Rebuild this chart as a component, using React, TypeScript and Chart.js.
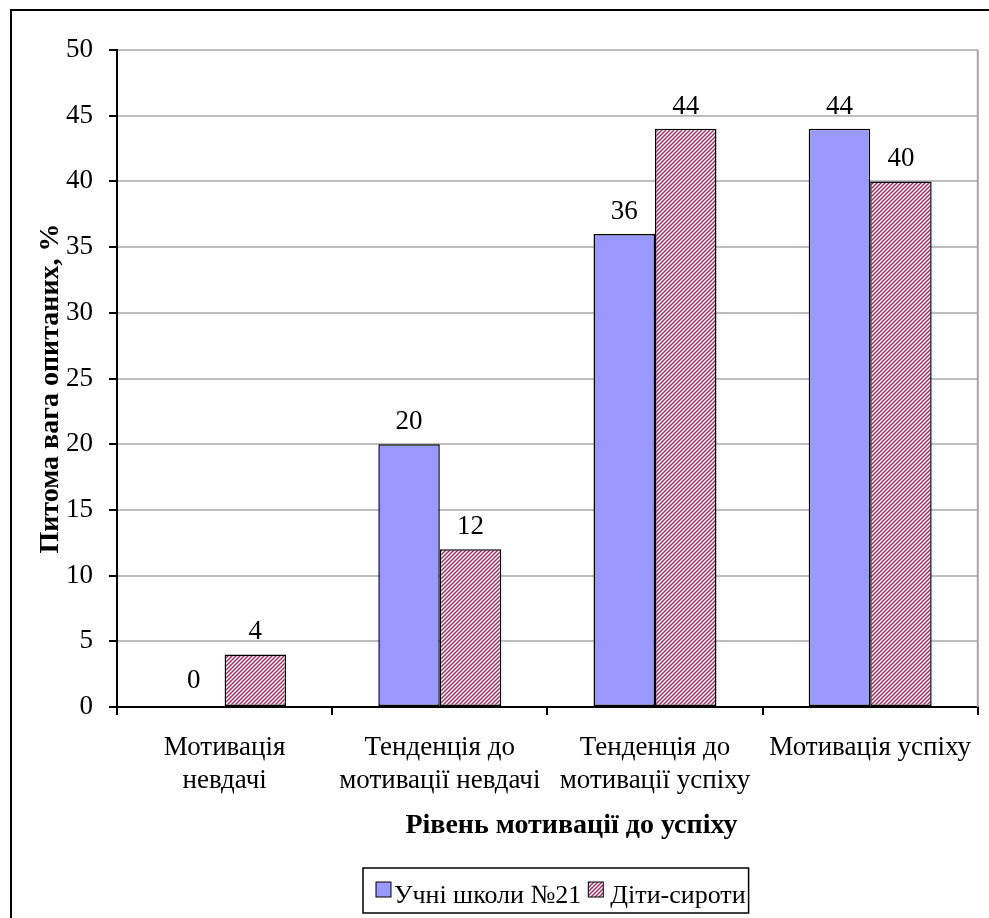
import React, { useEffect, useRef } from "react";
import { Chart, registerables } from "chart.js";

Chart.register(...registerables);

const categories: (string | string[])[] = [
  ["Мотивація", "невдачі"],
  ["Тенденція до", "мотивації невдачі"],
  ["Тенденція до", "мотивації успіху"],
  "Мотивація успіху",
];
const seriesNames = ["Учні школи №21", "Діти-сироти"];
const school21 = [0, 20, 36, 44];
const orphans = [4, 12, 44, 40];
const yMin = 0;
const yMax = 50;
const yStep = 5;
const xTitle = "Рівень мотивації до успіху";
const yTitle = "Питома вага опитаних, %";

const FONT = "'Liberation Serif', 'Times New Roman', serif";
const BLUE = "#9999FF";
const HATCH = "#993366";

function makeHatch(): CanvasPattern | string {
  const c = document.createElement("canvas");
  c.width = 4;
  c.height = 4;
  const ctx = c.getContext("2d");
  if (!ctx) return HATCH;
  ctx.fillStyle = "#ffffff";
  ctx.fillRect(0, 0, 4, 4);
  ctx.strokeStyle = HATCH;
  ctx.lineWidth = 1.5;
  ctx.beginPath();
  ctx.moveTo(-1, 5);
  ctx.lineTo(5, -1);
  ctx.moveTo(-1, 1);
  ctx.lineTo(1, -1);
  ctx.moveTo(3, 5);
  ctx.lineTo(5, 3);
  ctx.stroke();
  return ctx.createPattern(c, "repeat") || HATCH;
}

export default function App() {
  const ref = useRef<HTMLCanvasElement | null>(null);

  useEffect(() => {
    if (!ref.current) return;
    const hatch = makeHatch();

    const overlay = {
      id: "overlay",
      afterDraw(chart: any) {
        const ctx: CanvasRenderingContext2D = chart.ctx;
        const { left, right, top, bottom } = chart.chartArea;
        ctx.save();

        // plot area right border
        ctx.strokeStyle = "#a6a6a6";
        ctx.lineWidth = 2;
        ctx.beginPath();
        ctx.moveTo(right, top);
        ctx.lineTo(right, bottom);
        ctx.stroke();

        // outer chart border (top + left visible)
        ctx.strokeStyle = "#000";
        ctx.lineWidth = 2;
        ctx.beginPath();
        ctx.moveTo(11, chart.height + 5);
        ctx.lineTo(11, 10);
        ctx.lineTo(chart.width + 5, 10);
        ctx.stroke();

        // value labels
        ctx.fillStyle = "#000";
        ctx.font = `27px ${FONT}`;
        ctx.textAlign = "center";
        ctx.textBaseline = "alphabetic";
        chart.data.datasets.forEach((ds: any, i: number) => {
          const meta = chart.getDatasetMeta(i);
          meta.data.forEach((el: any, j: number) => {
            const v = ds.data[j];
            const off = v === 0 ? 19 : 15;
            ctx.fillText(String(v), el.x, el.y - off);
          });
        });

        // x title
        ctx.font = `bold 28px ${FONT}`;
        ctx.fillText(xTitle, (left + right) / 2 + 24, 833);

        // y title
        ctx.save();
        ctx.translate(58, (top + bottom) / 2 + 10);
        ctx.rotate(-Math.PI / 2);
        ctx.fillText(yTitle, 0, 0);
        ctx.restore();

        // legend
        ctx.font = `26px ${FONT}`;
        ctx.textAlign = "left";
        const sq = 15;
        const w1 = ctx.measureText(seriesNames[0]).width;
        const w2 = ctx.measureText(seriesNames[1]).width;
        const padL = 13;
        const padR = 3;
        const gapSqText = 3;
        const gapItems = 7;
        const total = padL + sq + gapSqText + w1 + gapItems + sq + 7 + w2 + padR;
        const bx = 363;
        const by = 868;
        const bh = 45;
        ctx.strokeStyle = "#000";
        ctx.lineWidth = 1.5;
        ctx.strokeRect(bx, by, total, bh);
        let x = bx + padL;
        const sy = by + 14;
        ctx.fillStyle = BLUE;
        ctx.fillRect(x, sy, sq, sq);
        ctx.lineWidth = 1;
        ctx.strokeRect(x, sy, sq, sq);
        x += sq + gapSqText;
        ctx.fillStyle = "#000";
        ctx.fillText(seriesNames[0], x, by + 35);
        x += w1 + gapItems;
        ctx.fillStyle = hatch as any;
        ctx.fillRect(x, sy, sq, sq);
        ctx.strokeRect(x, sy, sq, sq);
        x += sq + 7;
        ctx.fillStyle = "#000";
        ctx.fillText(seriesNames[1], x, by + 35);

        ctx.restore();
      },
    };

    const chart = new Chart(ref.current, {
      type: "bar",
      data: {
        labels: categories,
        datasets: [
          {
            label: seriesNames[0],
            data: school21,
            backgroundColor: BLUE,
            borderColor: "#000",
            borderWidth: 1.5,
            borderSkipped: false,
            categoryPercentage: 2 / 3.5,
            barPercentage: 1,
          },
          {
            label: seriesNames[1],
            data: orphans,
            backgroundColor: hatch as any,
            borderColor: "#000",
            borderWidth: 1.5,
            borderSkipped: false,
            categoryPercentage: 2 / 3.5,
            barPercentage: 1,
          },
        ],
      },
      options: {
        responsive: false,
        animation: false,
        layout: { padding: { left: 0, top: 50, right: 8, bottom: 0 } },
        plugins: {
          legend: { display: false },
          tooltip: { enabled: false },
          title: { display: false },
        },
        scales: {
          x: {
            afterFit: (s: any) => {
              s.height = 211;
            },
            grid: {
              offset: true,
              drawOnChartArea: false,
              drawTicks: true,
              tickLength: 8,
              tickColor: "#000",
              lineWidth: 2,
            },
            border: { display: true, color: "#000", width: 2 },
            ticks: {
              color: "#000",
              font: { family: FONT, size: 27, lineHeight: 1.2 },
              padding: 17,
              maxRotation: 0,
              minRotation: 0,
              autoSkip: false,
            },
          },
          y: {
            min: yMin,
            max: yMax,
            afterFit: (s: any) => {
              s.width = 117;
            },
            grid: {
              color: (c: any) => (c.tick && c.tick.value === 0 ? "rgba(0,0,0,0)" : "#bdbdbd"),
              lineWidth: 2,
              drawTicks: true,
              tickLength: 8,
              tickColor: "#000",
            },
            border: { display: true, color: "#000", width: 2 },
            ticks: {
              stepSize: yStep,
              color: "#000",
              font: { family: FONT, size: 27 },
              padding: 16,
            },
          },
        },
      },
      plugins: [overlay],
    });

    return () => {
      chart.destroy();
    };
  }, []);

  return (
    <div style={{ position: "absolute", left: 0, top: 0, width: 989, height: 918, background: "#fff" }}>
      <canvas ref={ref} width={989} height={918} style={{ display: "block" }} />
    </div>
  );
}
